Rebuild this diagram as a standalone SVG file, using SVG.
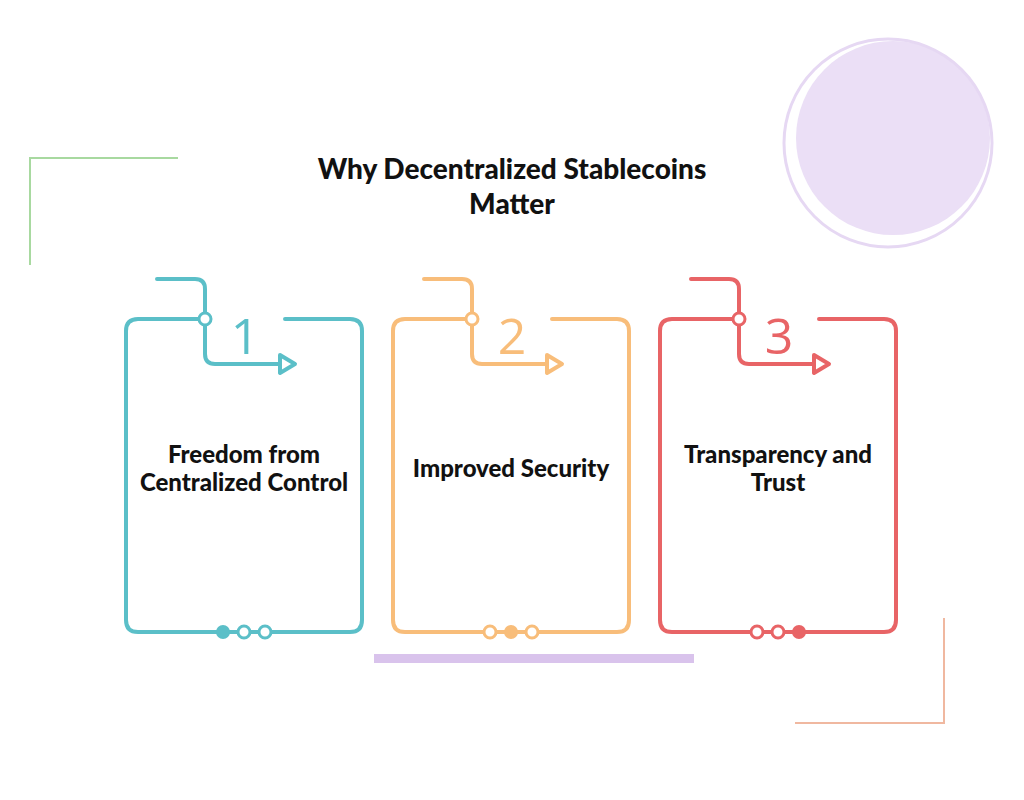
<svg xmlns="http://www.w3.org/2000/svg" width="1024" height="800" viewBox="0 0 1024 800">
<style>
.c{fill:none;stroke-width:4;stroke-linecap:round;stroke-linejoin:round}
.t{font-family:"Lato","Liberation Sans",sans-serif;font-weight:900;font-size:24px;fill:#111;text-anchor:middle}
.h{font-size:28px}
.n{font-family:"Open Sans","Liberation Sans",sans-serif;font-size:50px;text-anchor:middle}
</style>
<rect width="1024" height="800" fill="#fff"/>
<g id="decor">
<circle cx="893" cy="138" r="97" fill="#ebdff6"/>
<circle cx="888" cy="143" r="104" fill="none" stroke="#e6d8f3" stroke-width="3"/>
<path d="M178 158H30V265" fill="none" stroke="#a8d9a0" stroke-width="2"/>
<path d="M944 618V723H795" fill="none" stroke="#f0b8a0" stroke-width="2"/>
<rect x="374" y="654" width="320" height="9" fill="#d9c3ec"/>
</g>
<text class="t h" x="512" y="179">Why Decentralized Stablecoins</text>
<text class="t h" x="512" y="214">Matter</text>
<g id="card1" stroke="#5bbfc8" fill="#5bbfc8">
<path class="c" d="M200 319H138Q126 319 126 331V620Q126 632 138 632H350Q362 632 362 620V331Q362 319 350 319H285"/>
<path class="c" d="M157 279H195Q205 279 205 289V354Q205 364 215 364H278"/>
<path class="c" d="M280 355L295 364L280 373Z" fill="#fff"/>
<circle cx="205" cy="319" r="6" fill="#fff" stroke-width="3"/>
<circle cx="223" cy="632" r="7" stroke="none"/>
<circle cx="244" cy="632" r="6" fill="#fff" stroke-width="3"/>
<circle cx="265" cy="632" r="6" fill="#fff" stroke-width="3"/>
<text class="n" x="245" y="354" stroke="none">1</text>
<text class="t" x="244" y="463" stroke="none">Freedom from</text>
<text class="t" x="244" y="491" stroke="none">Centralized Control</text>
</g>
<g id="card2" stroke="#f8bd7a" fill="#f8bd7a" transform="translate(267,0)">
<path class="c" d="M200 319H138Q126 319 126 331V620Q126 632 138 632H350Q362 632 362 620V331Q362 319 350 319H285"/>
<path class="c" d="M157 279H195Q205 279 205 289V354Q205 364 215 364H278"/>
<path class="c" d="M280 355L295 364L280 373Z" fill="#fff"/>
<circle cx="205" cy="319" r="6" fill="#fff" stroke-width="3"/>
<circle cx="223" cy="632" r="6" fill="#fff" stroke-width="3"/>
<circle cx="244" cy="632" r="7" stroke="none"/>
<circle cx="265" cy="632" r="6" fill="#fff" stroke-width="3"/>
<text class="n" x="245" y="354" stroke="none">2</text>
<text class="t" x="244" y="477" stroke="none">Improved Security</text>
</g>
<g id="card3" stroke="#e86466" fill="#e86466" transform="translate(534,0)">
<path class="c" d="M200 319H138Q126 319 126 331V620Q126 632 138 632H350Q362 632 362 620V331Q362 319 350 319H285"/>
<path class="c" d="M157 279H195Q205 279 205 289V354Q205 364 215 364H278"/>
<path class="c" d="M280 355L295 364L280 373Z" fill="#fff"/>
<circle cx="205" cy="319" r="6" fill="#fff" stroke-width="3"/>
<circle cx="223" cy="632" r="6" fill="#fff" stroke-width="3"/>
<circle cx="244" cy="632" r="6" fill="#fff" stroke-width="3"/>
<circle cx="265" cy="632" r="7" stroke="none"/>
<text class="n" x="245" y="354" stroke="none">3</text>
<text class="t" x="244" y="463" stroke="none">Transparency and</text>
<text class="t" x="244" y="491" stroke="none">Trust</text>
</g>
<g id="connectors"></g>
</svg>
